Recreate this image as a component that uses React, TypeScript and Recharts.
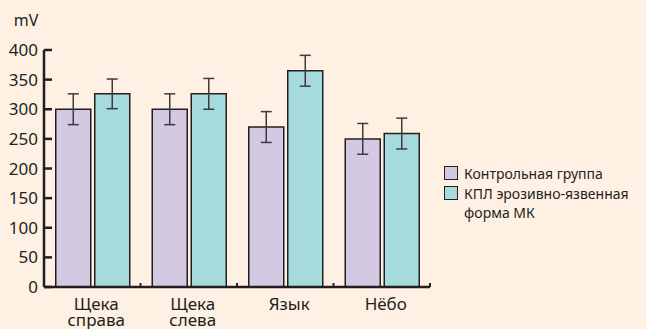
import React from 'react';
import { BarChart, Bar, XAxis, YAxis, ErrorBar, Legend } from 'recharts';

// Regions of the oral mucosa
const regions = ['Щека\nсправа', 'Щека\nслева', 'Язык', 'Нёбо'];
// Mean potential, mV
const controlValues = [300, 300, 270, 250];
const lichenValues = [326, 326, 365, 259];
// Error (±), mV
const controlErrors = [26, 26, 26, 26];
const lichenErrors = [25, 26, 26, 26];
const yTicks = [0, 50, 100, 150, 200, 250, 300, 350, 400];

const seriesNames = {
  control: 'Контрольная группа',
  lichen: 'КПЛ эрозивно-язвенная форма МК',
};

const data = regions.map((region, i) => ({
  region,
  control: controlValues[i],
  controlErr: controlErrors[i],
  lichen: lichenValues[i],
  lichenErr: lichenErrors[i],
}));

const FONT = '"Noto Sans", sans-serif';
const INK = '#231f20';
const BG = '#fef1e4';
const LAVENDER = '#d4c9e3';
const TEAL = '#a6dbdd';

// Category label plus a small inward tick at the right edge of each band
const CategoryTick = (props: any) => {
  const { x, y, payload } = props;
  const lines = String(payload.value).split('\n');
  const half = payload.offset || 0;
  return (
    <g>
      <line x1={x + half} x2={x + half} y1={y} y2={y - 4} stroke={INK} strokeWidth={2} />
      <text x={x + 4} y={y} textAnchor="middle" fontFamily={FONT} fontSize={17} fill={INK}>
        {lines.map((l, i) => (
          <tspan key={i} x={x + 4} dy={i === 0 ? 23 : 16}>
            {l}
          </tspan>
        ))}
      </text>
    </g>
  );
};

const LegendBox = () => (
  <div style={{ fontFamily: FONT, fontSize: 14, color: INK, lineHeight: '19.5px' }}>
    {[
      { color: LAVENDER, name: seriesNames.control },
      { color: TEAL, name: seriesNames.lichen },
    ].map((item) => (
      <div key={item.name} style={{ display: 'flex', alignItems: 'flex-start' }}>
        <span
          style={{
            display: 'inline-block',
            width: 12,
            height: 12,
            marginTop: 2,
            background: item.color,
            border: `1.5px solid ${INK}`,
            marginRight: 6,
            flexShrink: 0,
          }}
        />
        <span style={{ width: 176 }}>{item.name}</span>
      </div>
    ))}
  </div>
);

export default function App() {
  return (
    <div style={{ position: 'absolute', left: 0, top: 0, width: 646, height: 329, background: BG }}>
      <BarChart
        width={646}
        height={329}
        data={data}
        margin={{ top: 50, right: 216, bottom: 0, left: 0 }}
        barGap={4}
        barCategoryGap={11.75}
      >
        <XAxis
          dataKey="region"
          interval={0}
          tickLine={false}
          tickSize={0}
          tickMargin={0}
          stroke={INK}
          axisLine={{ stroke: INK, strokeWidth: 2.5 }}
          tick={<CategoryTick />}
          height={42}
        />
        <YAxis
          width={44}
          domain={[0, 400]}
          ticks={yTicks}
          interval={0}
          tickSize={-8}
          tickMargin={14}
          axisLine={{ stroke: INK, strokeWidth: 2.5 }}
          tickLine={{ stroke: INK, strokeWidth: 2.5 }}
          tick={{ fontFamily: FONT, fontSize: 17, fill: INK }}
          label={{
            value: 'mV',
            position: 'top',
            offset: 24,
            dx: 4,
            style: { fontFamily: FONT, fontSize: 16, fill: INK },
          }}
        />
        <Legend
          layout="horizontal"
          align="center"
          verticalAlign="middle"
          content={<LegendBox />}
          wrapperStyle={{ left: 444, top: 164, width: 200, height: 60 }}
        />
        <Bar
          dataKey="control"
          name={seriesNames.control}
          fill={LAVENDER}
          stroke={INK}
          strokeWidth={1.5}
          isAnimationActive={false}
        >
          <ErrorBar dataKey="controlErr" width={5.5} stroke="#3d3a3b" strokeWidth={1.5} direction="y" />
        </Bar>
        <Bar
          dataKey="lichen"
          name={seriesNames.lichen}
          fill={TEAL}
          stroke={INK}
          strokeWidth={1.5}
          isAnimationActive={false}
        >
          <ErrorBar dataKey="lichenErr" width={5.5} stroke="#3d3a3b" strokeWidth={1.5} direction="y" />
        </Bar>
      </BarChart>
    </div>
  );
}
